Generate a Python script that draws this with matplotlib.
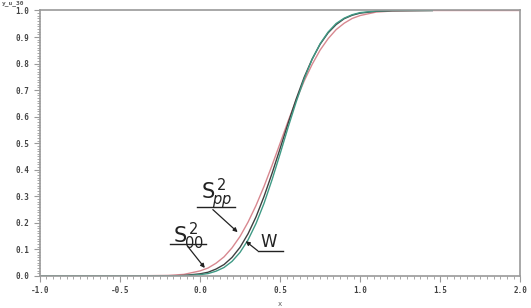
import numpy as np
import matplotlib
matplotlib.use("Agg")
import matplotlib.pyplot as plt
from matplotlib.ticker import MultipleLocator, AutoMinorLocator

# values
x_w = [-1.0, -0.5, -0.2, -0.1, 0.0, 0.05, 0.1, 0.15, 0.2, 0.25, 0.3, 0.35, 0.4, 0.45,
       0.5, 0.55, 0.6, 0.65, 0.7, 0.75, 0.8, 0.85, 0.9, 0.95, 1.0, 1.1, 1.2, 1.45]
y_w = [0.0, 0.0, 0.0, 0.001, 0.005, 0.009, 0.018, 0.032, 0.055, 0.089, 0.136, 0.198, 0.274, 0.363,
       0.46, 0.56, 0.655, 0.742, 0.816, 0.875, 0.919, 0.951, 0.971, 0.984, 0.992, 0.998, 1.0, 1.0]

x_s00 = x_w
y_s00 = [0.0, 0.0, 0.0, 0.002, 0.008, 0.014, 0.026, 0.043, 0.07, 0.108, 0.159, 0.223, 0.30, 0.387,
         0.48, 0.575, 0.666, 0.748, 0.817, 0.873, 0.916, 0.947, 0.969, 0.982, 0.99, 0.997, 0.999, 1.0]

x_spp = [-0.8, -0.5, -0.2, -0.1, 0.0, 0.05, 0.1, 0.15, 0.2, 0.25, 0.3, 0.35, 0.4, 0.45,
         0.5, 0.55, 0.6, 0.65, 0.7, 0.75, 0.8, 0.85, 0.9, 0.95, 1.0, 1.1, 1.2, 1.45, 2.0]
y_spp = [0.0, 0.0, 0.002, 0.006, 0.019, 0.030, 0.048, 0.072, 0.106, 0.149, 0.203, 0.266, 0.338, 0.417,
         0.5, 0.583, 0.662, 0.734, 0.797, 0.851, 0.894, 0.928, 0.952, 0.970, 0.981, 0.994, 0.998, 1.0, 1.0]

fig = plt.figure(figsize=(5.31, 3.08), dpi=100)
ax = fig.add_axes([0.075, 0.104, 0.905, 0.862])

ax.plot(x_spp, y_spp, color="#d88890", lw=1.0)
ax.plot(x_s00, y_s00, color="#404040", lw=1.0)
ax.plot(x_w, y_w, color="#3f9a85", lw=1.0)

ax.set_xlim(-1.0, 2.0)
ax.set_ylim(0.0, 1.0)
ax.xaxis.set_major_locator(MultipleLocator(0.5))
ax.xaxis.set_minor_locator(AutoMinorLocator(12))
ax.yaxis.set_major_locator(MultipleLocator(0.1))
ax.yaxis.set_minor_locator(AutoMinorLocator(10))
ax.xaxis.set_major_formatter(plt.FuncFormatter(lambda v, p: "%.1f" % v))
ax.yaxis.set_major_formatter(plt.FuncFormatter(lambda v, p: "%.1f" % v))

for s in ax.spines.values():
    s.set_color("#9a9a9a")
    s.set_linewidth(1.2)
ax.tick_params(which="both", colors="#9a9a9a", labelcolor="#444444",
               labelsize=5.5, direction="out")
ax.tick_params(which="major", length=4, width=0.8)
ax.tick_params(which="minor", length=2, width=0.6)
for lab in ax.get_xticklabels() + ax.get_yticklabels():
    lab.set_family("DejaVu Sans Mono")
    lab.set_fontweight("bold")

fig.text(0.004, 0.998, "y_u_30", fontsize=4.5, family="DejaVu Sans Mono",
         fontweight="bold", color="#555555", va="top", ha="left")
ax.set_xlabel("x", fontsize=5, family="DejaVu Sans Mono", color="#555555", labelpad=4)

# labels with underline and arrows
def label(txt, tx, ty, ux0, ux1, uy, start, tip, size=15):
    ax.text(tx, ty, txt, fontsize=size, ha="center", va="center", color="#222222")
    ax.plot([ux0, ux1], [uy, uy], color="#222222", lw=1.0)
    ax.annotate("", xy=tip, xytext=start,
                arrowprops=dict(arrowstyle="-|>", color="#222222", lw=0.9,
                                mutation_scale=6, shrinkA=0, shrinkB=0))

label(r"$\mathsf{S}^{\,2}_{\!pp}$", 0.10, 0.31, -0.02, 0.22, 0.26, (0.08, 0.25), (0.235, 0.165))
label(r"$\mathsf{S}^{\,2}_{\!00}$", -0.075, 0.15, -0.19, 0.04, 0.12, (-0.075, 0.11), (0.03, 0.03))
ax.text(0.43, 0.128, r"$\mathsf{W}$", fontsize=12, ha="center", va="center", color="#222222")
ax.plot([0.36, 0.52], [0.095, 0.095], color="#222222", lw=1.0)
ax.annotate("", xy=(0.285, 0.131), xytext=(0.36, 0.095),
            arrowprops=dict(arrowstyle="-|>", color="#222222", lw=0.9,
                            mutation_scale=6, shrinkA=0, shrinkB=0))

fig.savefig("out.png", dpi=100)
